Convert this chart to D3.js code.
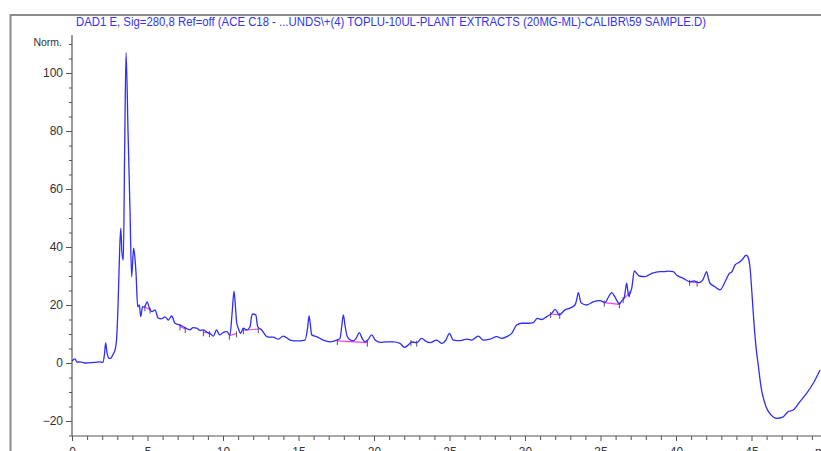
<!DOCTYPE html>
<html>
<head>
<meta charset="utf-8">
<script src="https://cdn.jsdelivr.net/npm/d3@7"></script>
<style>
  body { margin: 0; background: #fff; }
  svg { display: block; font-family: "Liberation Sans", Arial, sans-serif; }
</style>
</head>
<body>
<div id="chart"></div>
<script>
// chromatogram trace (time in min, signal in Norm.)
var timeMin = [0, 0.2, 0.33, 0.53, 0.86, 1.19, 1.52, 1.85, 2.05, 2.15, 2.23, 2.32, 2.47, 2.58, 2.72, 2.85, 2.95, 3.05, 3.15, 3.23, 3.31, 3.4, 3.48, 3.58, 3.71, 3.84, 3.95, 4.08, 4.17, 4.24, 4.35, 4.46, 4.55, 4.68, 4.8, 4.97, 5.17, 5.3, 5.5, 5.7, 5.9, 6.16, 6.38, 6.6, 6.82, 7.09, 7.37, 7.62, 7.81, 8.01, 8.26, 8.48, 8.7, 8.94, 9.14, 9.36, 9.58, 9.7, 9.8, 10.0, 10.25, 10.46, 10.6, 10.73, 10.83, 10.91, 11.01, 11.17, 11.34, 11.57, 11.79, 11.89, 11.97, 12.17, 12.3, 12.56, 12.9, 13.11, 13.33, 13.66, 13.99, 14.44, 14.88, 15.43, 15.6, 15.7, 15.8, 15.87, 16.2, 16.64, 17.09, 17.53, 17.75, 17.86, 17.97, 18.08, 18.23, 18.41, 18.63, 18.81, 19.03, 19.21, 19.4, 19.6, 19.85, 20.07, 20.4, 20.84, 21.28, 21.72, 22.01, 22.27, 22.5, 22.83, 23.16, 23.44, 23.71, 24.15, 24.48, 24.77, 24.99, 25.25, 25.7, 26.14, 26.47, 26.91, 27.24, 27.68, 28.13, 28.46, 28.79, 29.12, 29.45, 29.78, 30.22, 30.55, 30.81, 31.1, 31.44, 31.77, 31.99, 32.27, 32.65, 32.98, 33.31, 33.43, 33.53, 33.71, 34.09, 34.52, 34.97, 35.3, 35.5, 35.74, 35.93, 36.07, 36.24, 36.42, 36.56, 36.66, 36.73, 36.87, 36.99, 37.07, 37.24, 37.38, 37.57, 37.95, 38.15, 38.39, 38.68, 38.94, 39.21, 39.49, 39.82, 40.05, 40.48, 40.93, 41.19, 41.48, 41.77, 41.89, 42.03, 42.15, 42.25, 42.58, 42.91, 43.25, 43.53, 43.71, 43.91, 44.24, 44.44, 44.64, 44.77, 44.9, 45.03, 45.16, 45.33, 45.43, 45.63, 45.96, 46.29, 46.67, 47.07, 47.29, 47.42, 47.77, 48.21, 48.66, 49.09, 49.54];
var signal = [0.7, 1.4, 0.3, 0.4, 0.0, 0.1, 0.2, 0.4, 0.2, 3, 6.9, 3.5, 1.6, 1.7, 3, 4.5, 8, 20, 38, 46.5, 38, 35.5, 70, 107, 80, 53, 29.7, 39.6, 36, 31, 19.4, 20, 16, 19.4, 19.2, 21.1, 18.3, 17.7, 18.3, 15.5, 15.2, 15.9, 14.8, 16.2, 13.7, 13.2, 12.5, 11.8, 11.4, 12.2, 12, 11.2, 11.4, 10.6, 10.2, 9.3, 11.4, 10.2, 9.7, 10.5, 10.8, 9.7, 17, 24.8, 19, 13.7, 12, 10.2, 12, 11.4, 12.5, 16, 16.9, 16.6, 12.5, 11.4, 9.1, 8.9, 8.9, 8.2, 9.3, 7.9, 7.6, 7.9, 12, 16.2, 12.5, 9.7, 9.1, 7.9, 7.3, 7.9, 8.5, 12.5, 16.6, 13, 9.1, 8, 7.6, 8.5, 10.5, 8.5, 7.3, 8, 9.7, 7.9, 7.1, 7.3, 7.3, 6.8, 5.4, 6.2, 7.3, 7.0, 8.5, 7.5, 7.0, 7.9, 6.8, 8, 10.2, 7.9, 7.7, 8.2, 7.9, 9.3, 7.9, 8.2, 9.1, 8.5, 9.1, 10.2, 13.1, 13.7, 13.7, 13.9, 15.4, 15, 16, 17.1, 18.5, 16.6, 18.3, 18.9, 20, 22, 24.3, 20.8, 20, 21.1, 21.5, 20.8, 22.5, 24.3, 23, 21.7, 20.3, 21.5, 22.3, 25.5, 27.5, 23.1, 24.5, 25.8, 31.8, 31, 30, 29.8, 30.2, 30.9, 31.3, 31.5, 31.5, 31.7, 31.5, 30.3, 29.2, 28, 28.3, 27.7, 28.6, 30, 31.5, 29, 27.5, 26.3, 25.2, 28, 30.9, 31.5, 33.8, 34.9, 36, 37.2, 36.5, 33, 24, 14, 4, 0, -8.2, -15.1, -17.9, -19.1, -18.7, -17.5, -16.8, -16.2, -13.3, -10.4, -7, -2.4];

// integration baselines: start time, start value, end time, end value
var baseStart = [4.83, 7.15, 8.7, 10.42, 11.35, 17.57, 22.45, 31.7, 35.25, 36.5, 40.9];
var baseStartVal = [19.2, 12.6, 10.6, 9.4, 11.3, 7.6, 7.2, 16.9, 20.8, 22.0, 28.0];
var baseEnd = [5.17, 7.5, 9.1, 10.9, 12.34, 19.56, 22.83, 32.3, 36.25, 36.9, 41.4];
var baseEndVal = [18.4, 11.7, 10.3, 10.2, 11.7, 7.0, 7.0, 16.6, 20.2, 24.0, 27.7];

var xTickLabels = [0, 5, 10, 15, 20, 25, 30, 35, 40, 45];
var yTickLabels = [-20, 0, 20, 40, 60, 80, 100];

var titleText = "DAD1 E, Sig=280,8 Ref=off (ACE C18 - ...UNDS\\+(4) TOPLU-10UL-PLANT EXTRACTS (20MG-ML)-CALIBR\\59 SAMPLE.D)";

document.addEventListener('DOMContentLoaded', function () {
    var width = 821, height = 451;

    var svg = d3.select("#chart").append("svg")
        .attr("width", width)
        .attr("height", height);

    var x = d3.scaleLinear().domain([0, 50]).range([72, 827]);
    var y = d3.scaleLinear().domain([-25, 113]).range([435.5, 35.3]);

    // gray frame on the left and top
    svg.append("line")
        .attr("x1", 10.5).attr("x2", 10.5).attr("y1", 14).attr("y2", height)
        .attr("stroke", "#8c8c8c").attr("stroke-width", 2);
    svg.append("line")
        .attr("x1", 10).attr("x2", width).attr("y1", 15).attr("y2", 15)
        .attr("stroke", "#8c8c8c").attr("stroke-width", 2);

    // title
    svg.append("text")
        .attr("x", 76).attr("y", 25.5)
        .attr("textLength", 630)
        .attr("lengthAdjust", "spacingAndGlyphs")
        .style("font-size", "12px")
        .style("fill", "#3434ee")
        .text(titleText);

    // Y axis
    var yAxis = svg.append("g")
        .attr("transform", "translate(72,0)")
        .call(d3.axisLeft(y).tickValues(yTickLabels).tickSize(6).tickPadding(3));
    svg.append("g")
        .attr("transform", "translate(72,0)")
        .call(d3.axisLeft(y).tickValues(d3.range(-25, 111, 5).filter(function(d) { return d % 20 != 0; }))
            .tickSize(3).tickFormat(""))
        .select(".domain").remove();

    // X axis
    var xAxis = svg.append("g")
        .attr("transform", "translate(0,436)")
        .call(d3.axisBottom(x).tickValues(xTickLabels).tickSize(5).tickPadding(6));
    svg.append("g")
        .attr("transform", "translate(0,436)")
        .call(d3.axisBottom(x).tickValues(d3.range(0, 51, 1).filter(function(d) { return d % 5 != 0; }))
            .tickSize(4).tickFormat(""))
        .select(".domain").remove();

    svg.selectAll(".domain").attr("stroke", "#555").attr("stroke-width", 1.2);
    svg.selectAll(".tick line").attr("stroke", "#555");
    svg.selectAll(".tick text")
        .style("font-size", "12px")
        .style("fill", "#333")
        .style("font-family", "'Liberation Sans', Arial, sans-serif");
    yAxis.select(".domain").attr("d", "M0,35V436");
    xAxis.select(".domain").attr("d", "M72,0H827");

    // axis unit labels
    svg.append("text")
        .attr("x", 62).attr("y", 46)
        .style("text-anchor", "end")
        .style("font-size", "10.5px")
        .style("fill", "#333")
        .text("Norm.");
    svg.append("text")
        .attr("x", 815).attr("y", 456)
        .style("font-size", "12px")
        .style("fill", "#333")
        .text("min");

    // integration baselines
    var baseIdx = d3.range(baseStart.length);
    svg.selectAll("line.base")
        .data(baseIdx)
        .enter()
        .append("line")
            .attr("class", "base")
            .attr("x1", function(i) { return x(baseStart[i]); })
            .attr("y1", function(i) { return y(baseStartVal[i]); })
            .attr("x2", function(i) { return x(baseEnd[i]); })
            .attr("y2", function(i) { return y(baseEndVal[i]); })
            .attr("stroke", "#ff3cf0")
            .attr("stroke-width", 1.2);

    // small tick marks at baseline ends
    var markT = baseStart.concat(baseEnd);
    var markV = baseStartVal.concat(baseEndVal);
    svg.selectAll("line.mark")
        .data(d3.range(markT.length))
        .enter()
        .append("line")
            .attr("class", "mark")
            .attr("x1", function(i) { return x(markT[i]); })
            .attr("x2", function(i) { return x(markT[i]); })
            .attr("y1", function(i) { return y(markV[i]) - 2; })
            .attr("y2", function(i) { return y(markV[i]) + 4; })
            .attr("stroke", "#555")
            .attr("stroke-width", 1);

    // signal trace
    var line = d3.line()
        .x(function(d, i) { return x(timeMin[i]); })
        .y(function(d) { return y(d); })
        .curve(d3.curveMonotoneX);

    svg.append("path")
        .datum(signal)
        .attr("d", line)
        .attr("fill", "none")
        .attr("stroke", "#2e2ef5")
        .attr("stroke-width", 1.3);
});
</script>
</body>
</html>
